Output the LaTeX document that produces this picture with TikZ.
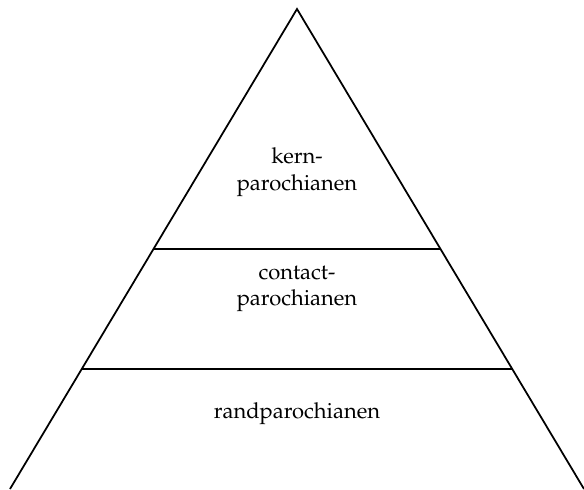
\documentclass[tikz,border=0pt]{standalone}
\usepackage[T1]{fontenc}
\usepackage{mathpazo}
\usetikzlibrary{calc}

\begin{document}
\begin{tikzpicture}[
    x=0.016cm, y=-0.016cm,
    zijde/.style ={
        line width=0.8pt,
        line join=miter
    },
    laag/.style ={
        align=center,
        inner sep=0pt
    }
    ]
    \useasboundingbox (0,0) rectangle (584,489);

    \coordinate (top) at (297,9);
    \coordinate (linksonder) at (10,489);
    \coordinate (rechtsonder) at (584,489);

    \draw[zijde] (linksonder) -- (top) -- (rechtsonder);
    \foreach \t in {0.5, 0.75}
        \draw[zijde] ($(top)!\t!(linksonder)$) -- ($(top)!\t!(rechtsonder)$);

    \node[laag] (kern) at (297,172) {kern-\\parochianen};
    \node[laag] (contact) at (297,289) {contact-\\parochianen};
    \node[laag] (rand) at (297,414) {randparochianen};

\end{tikzpicture}
\end{document}
